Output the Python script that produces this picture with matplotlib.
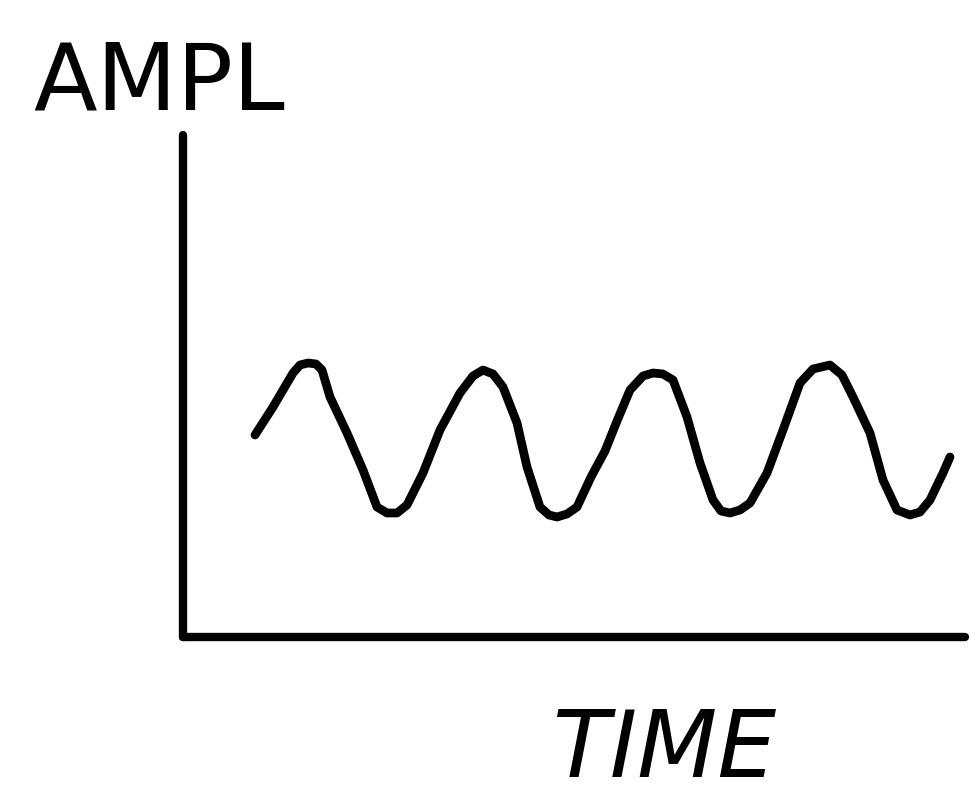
import matplotlib
matplotlib.use("Agg")
import matplotlib.pyplot as plt

# Hand-drawn wave (time, amplitude in arbitrary units)
time = [7.2, 9.0, 11.0, 11.7, 12.5, 13.3, 13.9, 14.7, 16.4, 18.0, 19.4, 20.4, 21.4,
        22.4, 24.0, 25.7, 27.7, 29.0, 30.0, 31.0, 32.0, 33.4, 34.4, 35.7, 36.6, 37.4,
        38.4, 39.4, 40.8, 42.2, 43.4, 44.7, 46.0, 47.0, 48.0, 49.0, 50.4, 51.7, 53.0,
        53.8, 54.7, 55.7, 56.7, 58.4, 60.0, 61.7, 63.0, 64.7, 65.9, 67.0, 68.7, 70.0,
        71.4, 72.7, 73.7, 74.7, 76.0, 76.7]
ampl = [20.2, 23.0, 26.4, 27.2, 27.4, 27.3, 26.7, 24.0, 20.4, 16.7, 13.0, 12.4, 12.4,
        13.2, 16.4, 20.7, 24.4, 26.1, 26.7, 26.3, 25.0, 21.4, 17.0, 13.0, 12.2, 12.0,
        12.3, 13.0, 16.0, 18.6, 21.6, 24.7, 26.1, 26.4, 26.3, 25.7, 22.0, 17.4, 13.7,
        12.6, 12.4, 12.7, 13.4, 16.4, 20.7, 25.4, 26.8, 27.2, 26.2, 24.0, 20.4, 15.7,
        12.7, 12.2, 12.5, 13.7, 16.4, 18.0]

x_label = "TIME"
y_label = "AMPL"

fig = plt.figure(figsize=(9.71, 7.95), dpi=100)
ax = fig.add_axes([183 / 971, 1 - 637 / 795, (965 - 183) / 971, (637 - 135) / 795])
ax.set_xlim(0, 78.2)
ax.set_ylim(0, 50.2)

ax.plot(time, ampl, color="black", lw=6.3, solid_capstyle="round",
        solid_joinstyle="round")

for side in ("top", "right"):
    ax.spines[side].set_visible(False)
for side in ("left", "bottom"):
    sp = ax.spines[side]
    sp.set_linewidth(6.0)
    sp.set_color("black")
    sp.set_capstyle("round")
ax.set_xticks([])
ax.set_yticks([])

fig.text(33 / 971, 1 - 110 / 795, y_label, fontsize=67, family="DejaVu Sans",
         ha="left", va="baseline")
fig.text(665 / 971, 1 - 777 / 795, x_label, fontsize=67, family="DejaVu Sans",
         style="italic", ha="center", va="baseline")

fig.savefig("out.png", dpi=100, facecolor="white")
